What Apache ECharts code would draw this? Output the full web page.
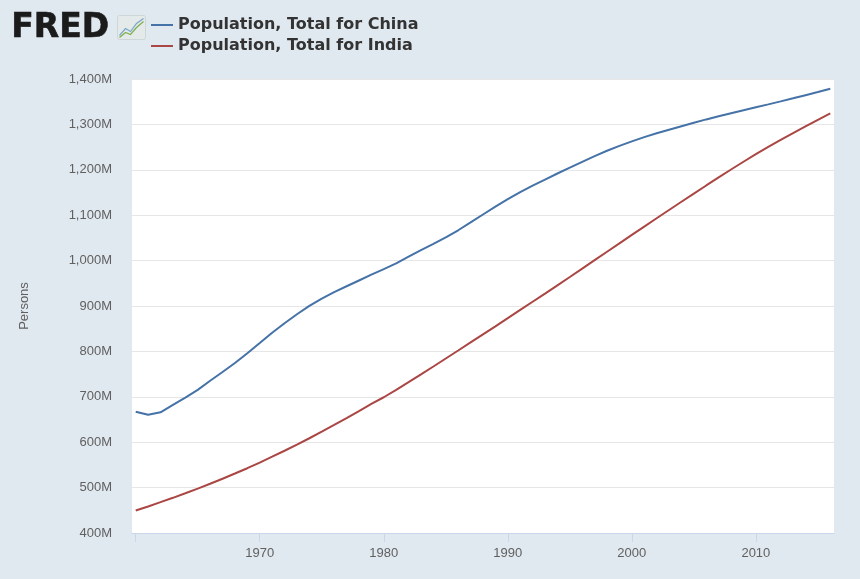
<!DOCTYPE html>
<html lang="en">
<head>
    <meta charset="UTF-8">
    <title>Population, Total for China and India</title>
    <script src="https://cdn.jsdelivr.net/npm/echarts@6/dist/echarts.min.js"></script>
    <style>
        body {
            margin: 0;
            padding: 0;
            background-color: #e1e9f0;
        }

        #chartContainer {
            width: 860px;
            height: 579px;
        }
    </style>
</head>
<body>
    <div id="chartContainer"></div>

    <script>
        // yearly values, millions of persons
        var years = [];
        for (var y = 1960; y <= 2016; y++) years.push(y);

        var china = [
            667.1, 660.3, 665.8, 682.3, 698.4, 715.2, 735.4, 754.6, 774.5, 796.0,
            818.3, 841.1, 862.0, 881.9, 900.4, 916.4, 930.7, 943.5, 956.2, 969.0,
            981.2, 993.9, 1008.6, 1023.3, 1036.8, 1051.0, 1066.8, 1084.0, 1101.6, 1118.7,
            1135.2, 1150.8, 1165.0, 1178.4, 1191.8, 1204.9, 1217.6, 1230.1, 1241.9, 1252.7,
            1262.7, 1271.9, 1280.4, 1288.4, 1296.1, 1303.7, 1311.0, 1317.9, 1324.7, 1331.3,
            1337.7, 1344.1, 1350.7, 1357.4, 1364.3, 1371.2, 1378.7
        ];

        var india = [
            449.5, 458.5, 467.9, 477.5, 487.5, 497.7, 508.4, 519.5, 531.0, 542.7,
            555.2, 568.1, 581.2, 594.8, 608.7, 623.1, 637.9, 653.0, 668.5, 684.4,
            699.0, 715.4, 732.2, 749.4, 766.8, 784.4, 802.0, 819.7, 837.5, 855.3,
            873.3, 891.3, 909.3, 927.4, 945.6, 963.9, 982.4, 1000.9, 1019.5, 1038.1,
            1056.6, 1075.0, 1093.3, 1111.5, 1129.6, 1147.6, 1165.5, 1183.2, 1200.7, 1217.7,
            1234.3, 1250.3, 1265.8, 1280.8, 1295.6, 1310.2, 1324.5
        ];

        var xTicks = [1960, 1970, 1980, 1990, 2000, 2010];
        var xLabels = [1970, 1980, 1990, 2000, 2010];

        function pairs(values) {
            return years.map(function(yr, i) { return [yr, values[i]]; });
        }

        var chartDom = document.getElementById('chartContainer');
        var myChart = echarts.init(chartDom);
        var option;

        option = {
            backgroundColor: '#e1e9f0',
            animation: false,
            textStyle: {
                fontFamily: 'Liberation Sans, Arial, sans-serif'
            },
            graphic: [
                {
                    type: 'text',
                    left: 11,
                    top: 12,
                    style: {
                        text: 'FRED',
                        fontFamily: 'DejaVu Sans',
                        fontSize: 33,
                        fontWeight: 900,
                        fill: '#1b1b1b',
                        stroke: '#1b1b1b',
                        lineWidth: 0.6
                    }
                },
                {
                    type: 'group',
                    left: 117,
                    top: 15,
                    children: [
                        {
                            type: 'rect',
                            shape: { x: 0, y: 0, width: 28, height: 24, r: 2 },
                            style: { fill: '#e4e9ea', stroke: '#cfd6d8', lineWidth: 1 }
                        },
                        {
                            type: 'polyline',
                            shape: { points: [[2, 20], [8, 13], [13, 16], [19, 8], [26, 3]] },
                            style: { stroke: '#7aa6c8', lineWidth: 1.2, fill: null }
                        },
                        {
                            type: 'polyline',
                            shape: { points: [[2, 22], [8, 17], [13, 19], [19, 12], [26, 6]] },
                            style: { stroke: '#7fb04a', lineWidth: 1.2, fill: null }
                        }
                    ]
                }
            ],
            legend: {
                orient: 'vertical',
                left: 151,
                top: 17,
                padding: 0,
                itemWidth: 22,
                itemHeight: 2,
                itemGap: 5,
                icon: 'rect',
                textStyle: {
                    fontFamily: 'DejaVu Sans',
                    fontSize: 16,
                    fontWeight: 'bold',
                    color: '#333333'
                },
                data: ['Population, Total for China', 'Population, Total for India']
            },
            grid: {
                left: 132,
                right: 26,
                top: 79,
                bottom: 46,
                show: true,
                backgroundColor: '#ffffff',
                borderWidth: 0
            },
            xAxis: {
                type: 'value',
                min: 1959.7,
                max: 2016.3,
                axisLine: {
                    show: true,
                    lineStyle: { color: '#ccd6eb', width: 1 }
                },
                axisTick: {
                    show: true,
                    length: 9,
                    customValues: xTicks,
                    lineStyle: { color: '#ccd6eb' }
                },
                axisLabel: {
                    customValues: xLabels,
                    fontSize: 13,
                    color: '#606060',
                    margin: 14,
                    formatter: function(v) { return String(v); }
                },
                splitLine: { show: false }
            },
            yAxis: {
                type: 'value',
                min: 400,
                max: 1400,
                interval: 100,
                name: 'Persons',
                nameLocation: 'middle',
                nameRotate: 90,
                nameGap: 101,
                nameTextStyle: {
                    fontSize: 13,
                    color: '#606060'
                },
                axisLine: { show: false },
                axisTick: { show: false },
                axisLabel: {
                    fontSize: 13,
                    color: '#606060',
                    margin: 20,
                    formatter: function(v) {
                        return v.toLocaleString('en-US') + 'M';
                    }
                },
                splitLine: {
                    lineStyle: { color: '#e6e6e6', width: 1 }
                }
            },
            series: [
                {
                    name: 'Population, Total for China',
                    type: 'line',
                    data: pairs(china),
                    showSymbol: false,
                    lineStyle: { width: 2, color: '#4572a7' },
                    itemStyle: { color: '#4572a7' }
                },
                {
                    name: 'Population, Total for India',
                    type: 'line',
                    data: pairs(india),
                    showSymbol: false,
                    lineStyle: { width: 2, color: '#aa4643' },
                    itemStyle: { color: '#aa4643' }
                }
            ]
        };

        option && myChart.setOption(option);
    </script>
</body>
</html>
